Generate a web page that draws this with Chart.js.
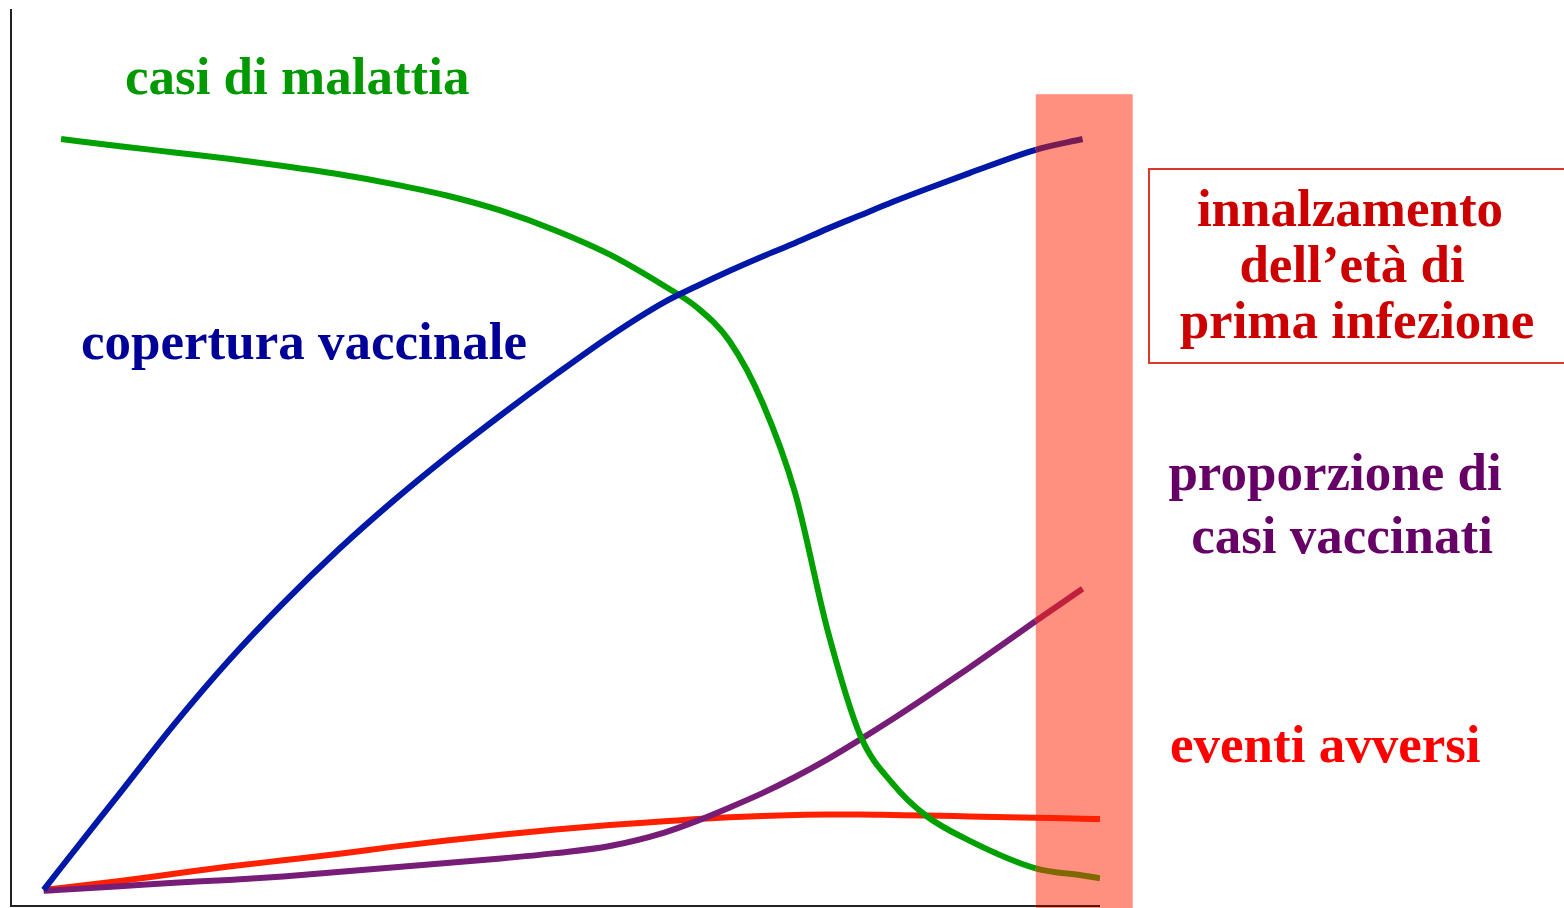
<!DOCTYPE html>
<html lang="it">
<head>
<meta charset="utf-8">
<title>Effetti della vaccinazione</title>
<script src="https://cdn.jsdelivr.net/npm/chart.js@4/dist/chart.umd.min.js"></script>
<style>
  html, body { margin: 0; padding: 0; background: #ffffff; }
  #wrap { width: 1564px; height: 908px; position: relative; }
</style>
</head>
<body>
<div id="wrap"><canvas id="vacciniChart"></canvas></div>
<script>
// tempo (unità arbitrarie, 0-100)
var tempo = [3, 4.6, 10, 15, 20, 25, 30, 35, 40, 45, 50, 55, 60, 63, 66, 69, 72, 75, 78, 81, 84, 88, 94.1, 98.4, 100];

var casiMalattia = [null, 85.6, 84.8, 84.1, 83.4, 82.6, 81.7, 80.6, 79.3, 77.6, 75.4, 72.7, 69.2, 66.8, 63.0, 56.2, 46.1, 30.7, 19.0, 13.6, 10.1, 7.3, 4.2, 3.4, 3.1];
var coperturaVaccinale = [1.8, 4.3, 12.6, 20.3, 27.4, 33.8, 39.7, 45.1, 50.1, 54.8, 59.3, 63.6, 67.4, 69.2, 70.9, 72.5, 74.0, 75.6, 77.1, 78.6, 80.0, 81.8, 84.4, 85.6, null];
var casiVaccinati = [1.7, 1.8, 2.2, 2.6, 2.9, 3.3, 3.8, 4.3, 4.8, 5.3, 5.9, 6.7, 8.2, 9.5, 11.0, 12.6, 14.4, 16.4, 18.6, 20.9, 23.3, 26.6, 31.8, 35.4, null];
var eventiAvversi = [1.8, 2.0, 2.8, 3.6, 4.4, 5.1, 5.8, 6.6, 7.3, 7.95, 8.55, 9.05, 9.45, 9.7, 9.9, 10.05, 10.15, 10.2, 10.2, 10.15, 10.1, 10.0, 9.85, 9.75, 9.7];

// fascia evidenziata (innalzamento dell'età di prima infezione)
var fasciaDa = 94.1;
var fasciaA = 103;
var fasciaTop = 90.6;

function punti(values) {
    return tempo.map(function (t, i) { return { x: t, y: values[i] }; });
}

// colore diverso per i tratti che passano sopra la fascia
function coloreFascia(base, scuro) {
    return function (ctx) {
        return ctx.p0.parsed.x >= fasciaDa - 0.01 ? scuro : base;
    };
}

function serie(label, values, color, inBand, order) {
    return {
        label: label,
        data: punti(values),
        borderColor: color,
        borderWidth: 6,
        pointRadius: 0,
        fill: false,
        cubicInterpolationMode: 'monotone',
        order: order,
        segment: { borderColor: coloreFascia(color, inBand) }
    };
}

var fasciaPlugin = {
    id: 'fascia',
    beforeDatasetsDraw: function (chart) {
        var c = chart.ctx, x = chart.scales.x, y = chart.scales.y;
        var left = x.getPixelForValue(fasciaDa);
        var right = x.getPixelForValue(fasciaA);
        var top = y.getPixelForValue(fasciaTop);
        c.save();
        c.fillStyle = '#ff9080';
        c.fillRect(left, top, right - left, chart.height - top);
        // asse sotto la fascia
        c.strokeStyle = '#5a1408';
        c.lineWidth = 2;
        c.beginPath();
        c.moveTo(left, chart.chartArea.bottom);
        c.lineTo(chart.chartArea.right, chart.chartArea.bottom);
        c.stroke();
        c.restore();
    }
};

var etichettePlugin = {
    id: 'etichette',
    afterDraw: function (chart) {
        var c = chart.ctx;
        c.save();
        c.font = 'bold 53px "Liberation Serif", "Times New Roman", serif';
        c.textBaseline = 'alphabetic';

        c.textAlign = 'left';
        c.fillStyle = '#009900';
        c.fillText('casi di malattia', 125, 94);
        c.fillStyle = '#000099';
        c.fillText('copertura vaccinale', 81, 359);

        // riquadro rosso
        c.strokeStyle = '#e03828';
        c.lineWidth = 2;
        c.strokeRect(1149, 169, 420, 194);

        c.textAlign = 'center';
        c.fillStyle = '#cc0000';
        c.fillText('innalzamento', 1350, 226);
        c.fillText('dell\u2019et\u00e0 di', 1352, 282);
        c.fillText('prima infezione', 1357, 338);

        c.fillStyle = '#660066';
        c.fillText('proporzione di', 1335, 490);
        c.fillText('casi vaccinati', 1342, 553);

        c.textAlign = 'left';
        c.fillStyle = '#ff0000';
        c.fillText('eventi avversi', 1170, 762);
        c.restore();
    }
};

var ctx = document.getElementById('vacciniChart').getContext('2d');
var chart = new Chart(ctx, {
    type: 'line',
    data: {
        datasets: [
            serie('copertura vaccinale', coperturaVaccinale, '#0018a8', '#761c55', 0),
            serie('casi di malattia', casiMalattia, '#00a000', '#806800', 1),
            serie('proporzione di casi vaccinati', casiVaccinati, '#771c77', '#c0203c', 2),
            serie('eventi avversi', eventiAvversi, '#ff2000', '#ff2000', 3)
        ]
    },
    options: {
        responsive: true,
        maintainAspectRatio: false,
        animation: false,
        layout: { padding: { left: 11, top: 10, right: 464, bottom: 2 } },
        plugins: {
            legend: { display: false },
            tooltip: { enabled: false }
        },
        scales: {
            x: {
                type: 'linear', min: 0, max: 100,
                ticks: { display: false },
                grid: { display: false, drawTicks: false },
                border: { display: true, color: '#222222', width: 2 }
            },
            y: {
                min: 0, max: 100,
                ticks: { display: false },
                grid: { display: false, drawTicks: false },
                border: { display: true, color: '#222222', width: 2 }
            }
        }
    },
    plugins: [fasciaPlugin, etichettePlugin]
});
</script>
</body>
</html>
